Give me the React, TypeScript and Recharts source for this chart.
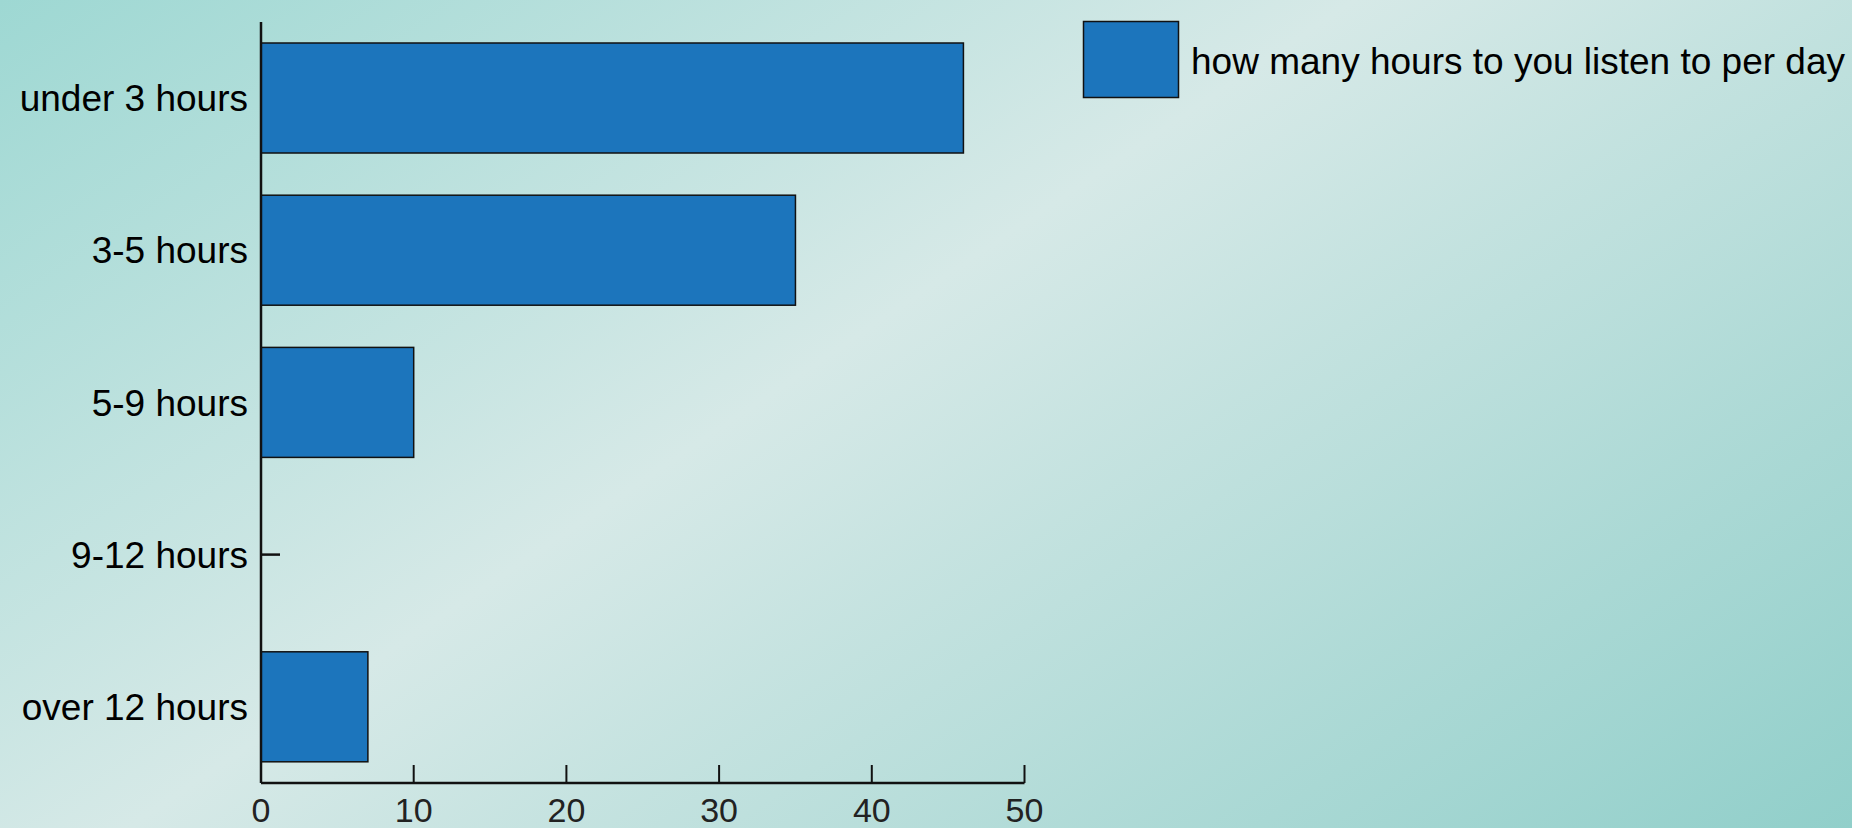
import { BarChart, Bar, XAxis, YAxis, Legend } from 'recharts';

const categories = ['under 3 hours', '3-5 hours', '5-9 hours', '9-12 hours', 'over 12 hours'];
const counts = [46, 35, 10, 0, 7];
const xTicks = [0, 10, 20, 30, 40, 50];
const seriesName = 'how many hours to you listen to per day';

const chartData = categories.map((name, i) => ({ name, count: counts[i] }));

const FONT = '"Liberation Sans", Arial, sans-serif';
const BAR_FILL = '#1c75bc';
const AXIS_Y = 783;
const LEGEND_W = 760;

// x ticks point inward (up) from the axis line
function XTick(props: any) {
  const { x, y, payload } = props;
  return (
    <g>
      <line x1={x} x2={x} y1={AXIS_Y - 18} y2={AXIS_Y} stroke="#111" strokeWidth={2} />
      <text x={x} y={y} dy="0.71em" textAnchor="middle" fontSize={34} fontFamily={FONT} fill="#222">
        {payload.value}
      </text>
    </g>
  );
}

// zero-value bars show up as a short stub off the axis
function BarShape(props: any) {
  const { x, y, width, height, payload } = props;
  if (!payload.count) {
    const cy = y + height / 2;
    return <line x1={x} x2={x + 19} y1={cy} y2={cy} stroke="#111" strokeWidth={2.5} />;
  }
  return <rect x={x} y={y} width={width} height={height} fill={BAR_FILL} stroke="#111" strokeWidth={1.5} />;
}

function LegendBox() {
  return (
    <svg width={LEGEND_W} height={100} style={{ display: 'block', overflow: 'visible' }}>
      <rect x={0.5} y={0.5} width={95} height={76} fill={BAR_FILL} stroke="#111" strokeWidth={1.5} />
      <text x={108} y={53} fontSize={37} fontFamily={FONT} fill="#000">
        {seriesName}
      </text>
    </svg>
  );
}

export default function App() {
  return (
    <div
      style={{
        position: 'absolute',
        left: 0,
        top: 0,
        width: 1852,
        height: 828,
        background: 'linear-gradient(146deg, #9ed8d3 0%, #d6e9e7 44%, #91cfca 100%)',
      }}
    >
      <BarChart
        width={1852}
        height={828}
        data={chartData}
        layout="vertical"
        margin={{ top: 22, right: 827.5 - LEGEND_W, bottom: 0, left: 0 }}
        barSize={110}
      >
        <XAxis
          type="number"
          domain={[0, 50]}
          ticks={xTicks}
          height={45}
          stroke="#111"
          strokeWidth={2.5}
          tickSize={0}
          tickMargin={15}
          tick={<XTick />}
        />
        <YAxis
          type="category"
          dataKey="name"
          width={261}
          stroke="#111"
          strokeWidth={2.5}
          tickLine={false}
          tickSize={0}
          tickMargin={13}
          tick={{ fontSize: 37, fontFamily: FONT, fill: '#000' }}
        />
        <Legend
          layout="horizontal"
          verticalAlign="middle"
          align="right"
          wrapperStyle={{ top: 21, left: 1083, width: LEGEND_W }}
          content={() => <LegendBox />}
        />
        <Bar dataKey="count" name={seriesName} shape={<BarShape />} isAnimationActive={false} />
      </BarChart>
    </div>
  );
}
